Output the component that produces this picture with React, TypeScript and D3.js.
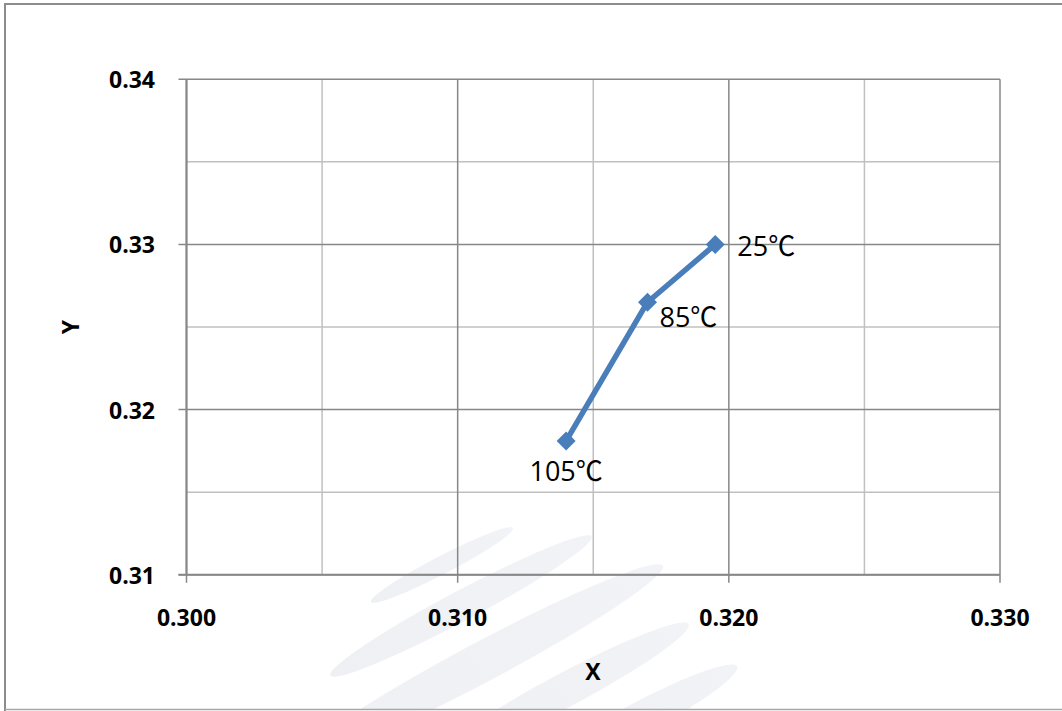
import React from "react";
import * as d3 from "d3";

// ---- data ----
const pointX = [0.3195, 0.317, 0.314];
const pointY = [0.33, 0.3265, 0.3181];
const pointLabels = ["25℃", "85℃", "105℃"];
const labelPlacement = ["right", "belowRight", "below"];
const xTicks = [0.3, 0.31, 0.32, 0.33];
const xMinorTicks = [0.305, 0.315, 0.325];
const yTicks = [0.31, 0.32, 0.33, 0.34];
const yMinorTicks = [0.315, 0.325, 0.335];
const xTitle = "X";
const yTitle = "Y";

// decorative background watermark (not data)
const watermark = [
  { cx: 442, cy: 565, rx: 80, ry: 9, a: -27.5 },
  { cx: 461, cy: 606, rx: 148, ry: 15, a: -28 },
  { cx: 482, cy: 662, rx: 205, ry: 20, a: -28 },
  { cx: 565, cy: 690, rx: 140, ry: 17, a: -28 },
  { cx: 640, cy: 718, rx: 110, ry: 16, a: -28 },
];

const W = 1062;
const H = 711;
const L = 186.5, R = 1000, T = 79.3, B = 574.7;
const FONT = "'Open Sans', 'Noto Sans CJK KR', sans-serif";

export default function App() {
  const x = d3.scaleLinear().domain([0.3, 0.33]).range([L, R]);
  const y = d3.scaleLinear().domain([0.31, 0.34]).range([B, T]);
  const pts = pointX.map((v, i) => [x(v), y(pointY[i])] as [number, number]);
  const line = d3.line()(pts) || "";
  const sq = "M0,-9.5L9.5,0L0,9.5L-9.5,0Z";

  const labelPos = (p: [number, number], kind: string) => {
    if (kind === "right") return { x: p[0] + 22, y: p[1] + 12, anchor: "start" };
    if (kind === "belowRight") return { x: p[0] + 12, y: p[1] + 25, anchor: "start" };
    return { x: p[0], y: p[1] + 40, anchor: "middle" };
  };

  return (
    <svg
      width={W}
      height={H}
      style={{ position: "absolute", left: 0, top: 0, background: "#fff" }}
      fontFamily={FONT}
    >
      <defs>
        <clipPath id="outer">
          <rect x={5} y={4} width={W} height={705} />
        </clipPath>
        <linearGradient id="wm" x1="0" y1="0" x2="1" y2="0">
          <stop offset="0" stopColor="#eef0f4" />
          <stop offset="1" stopColor="#f2f3f7" />
        </linearGradient>
      </defs>
      <rect x={0} y={0} width={W} height={H} fill="#fff" />
      <g clipPath="url(#outer)">
        {watermark.map((e, i) => (
          <ellipse
            key={i}
            cx={e.cx}
            cy={e.cy}
            rx={e.rx}
            ry={e.ry}
            fill="url(#wm)"
            transform={`rotate(${e.a} ${e.cx} ${e.cy})`}
          />
        ))}
      </g>
      {/* outer border */}
      <path d={`M5,${H + 5}V4H${W + 5}`} fill="none" stroke="#8c8c8c" strokeWidth={2} />
      <line x1={5} x2={W} y1={709.5} y2={709.5} stroke="#a6a6a6" strokeWidth={1.5} />

      {/* minor grid */}
      {xMinorTicks.map((t) => (
        <line key={"xm" + t} x1={x(t)} x2={x(t)} y1={T} y2={B} stroke="#c0c0c0" strokeWidth={1.5} />
      ))}
      {yMinorTicks.map((t) => (
        <line key={"ym" + t} x1={L} x2={R} y1={y(t)} y2={y(t)} stroke="#c0c0c0" strokeWidth={1.5} />
      ))}
      {/* major grid */}
      {xTicks.map((t) => (
        <line key={"x" + t} x1={x(t)} x2={x(t)} y1={T} y2={B + 8} stroke="#878787" strokeWidth={1.5} />
      ))}
      {yTicks.map((t) => (
        <line key={"y" + t} x1={L - 8} x2={R} y1={y(t)} y2={y(t)} stroke="#878787" strokeWidth={1.5} />
      ))}
      {/* axes */}
      <line x1={L} x2={L} y1={T} y2={B} stroke="#878787" strokeWidth={2} />
      <line x1={L - 8} x2={R} y1={B} y2={B} stroke="#878787" strokeWidth={2} />

      {/* tick labels */}
      {yTicks.map((t) => (
        <text
          key={"yl" + t}
          x={155}
          y={y(t)}
          textAnchor="end"
          dominantBaseline="central"
          fontWeight="bold"
          fontSize={23}
          fill="#000"
        >
          {d3.format(".2f")(t)}
        </text>
      ))}
      {xTicks.map((t) => (
        <text
          key={"xl" + t}
          x={x(t)}
          y={617}
          textAnchor="middle"
          dominantBaseline="central"
          fontWeight="bold"
          fontSize={23}
          fill="#000"
        >
          {d3.format(".3f")(t)}
        </text>
      ))}
      <text x={593} y={671} textAnchor="middle" dominantBaseline="central" fontWeight="bold" fontSize={23}>
        {xTitle}
      </text>
      <text
        x={70}
        y={327}
        textAnchor="middle"
        dominantBaseline="central"
        fontWeight="bold"
        fontSize={23}
        transform="rotate(-90 70 327)"
      >
        {yTitle}
      </text>

      {/* series */}
      <path d={line} fill="none" stroke="#4a7ebb" strokeWidth={5.5} strokeLinejoin="round" />
      {pts.map((p, i) => (
        <path key={"m" + i} d={sq} transform={`translate(${p[0]},${p[1]})`} fill="#4a7ebb" />
      ))}
      {pts.map((p, i) => {
        const lp = labelPos(p, labelPlacement[i]);
        return (
          <text key={"dl" + i} x={lp.x} y={lp.y} textAnchor={lp.anchor} fontSize={27} fill="#000">
            {pointLabels[i]}
          </text>
        );
      })}
    </svg>
  );
}
